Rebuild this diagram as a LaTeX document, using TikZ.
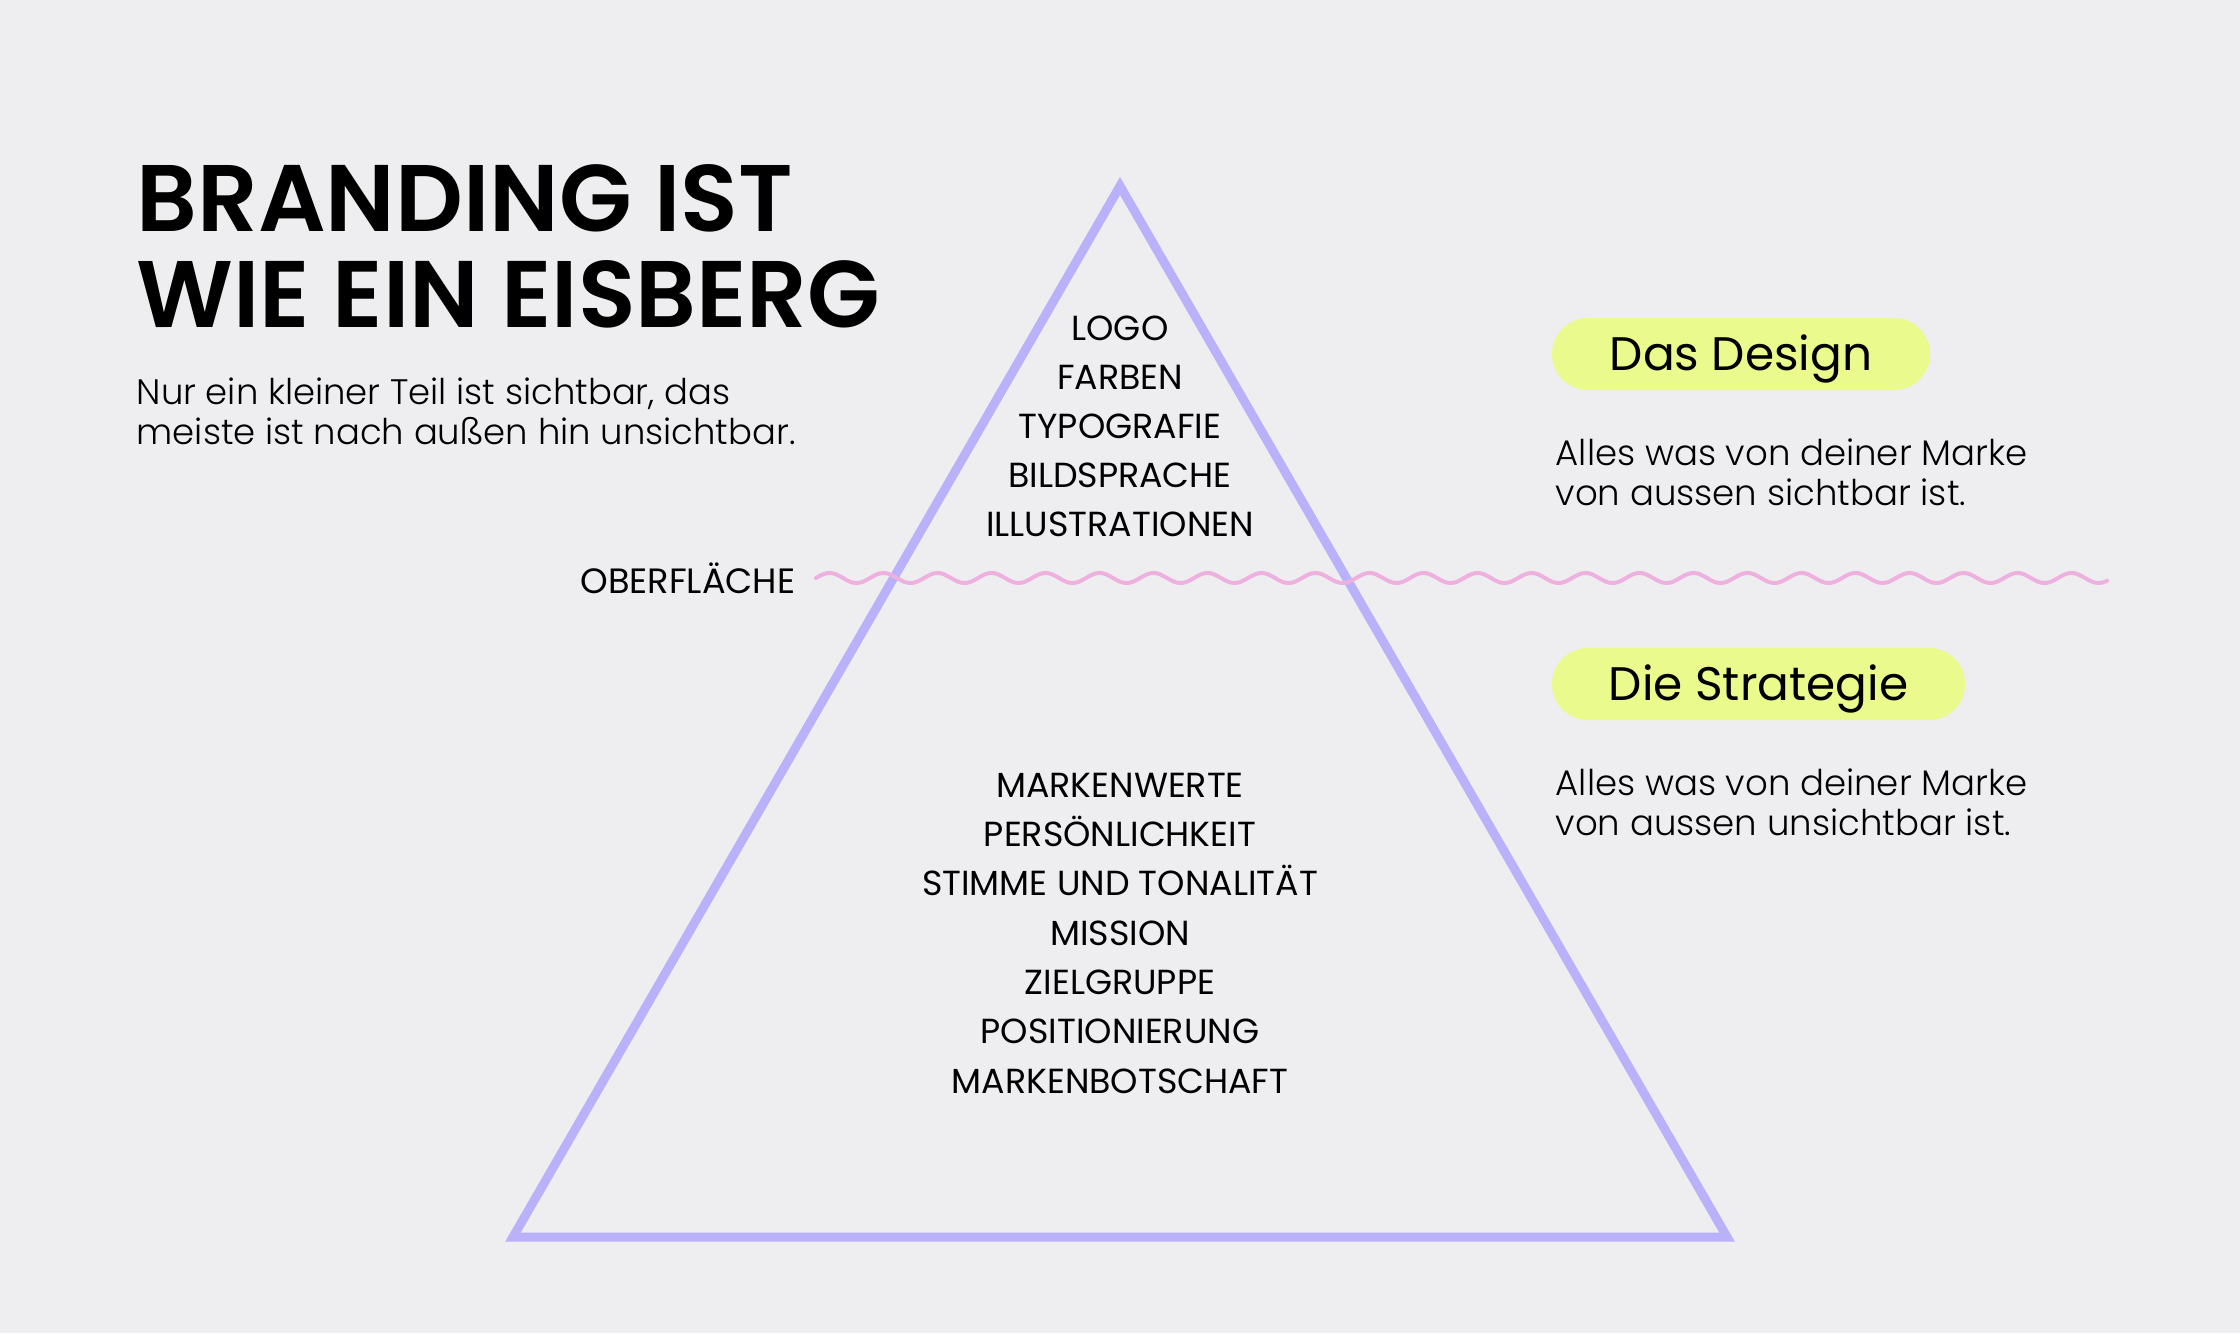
\documentclass[tikz,border=0pt]{standalone}
\usepackage{fontspec}
\setmainfont{Poppins}
\IfFontExistsTF{Poppins Light}{\newfontfamily\lightf{Poppins Light}}{\newfontfamily\lightf{Poppins}}
\IfFontExistsTF{Poppins SemiBold}{\newfontfamily\boldf{Poppins SemiBold}}{\newfontfamily\boldf{Poppins}[UprightFont=*-Bold]}
\definecolor{bg}{RGB}{238,238,241}
\definecolor{tricol}{RGB}{185,178,250}
\definecolor{pillcol}{RGB}{234,250,140}
\definecolor{wavecol}{RGB}{238,176,222}
\tikzset{
  titletext/.style={anchor=base west, inner sep=0pt, font=\boldf\fontsize{26.9pt}{27.6pt}\selectfont},
  subtext/.style={anchor=base west, inner sep=0pt, font=\lightf\fontsize{10.07pt}{11.4pt}\selectfont},
  listtext/.style={anchor=base, inner sep=0pt, font=\fontsize{9.9pt}{14pt}\selectfont},
  surftext/.style={anchor=base east, inner sep=0pt, font=\fontsize{10pt}{14pt}\selectfont},
  desctext/.style={anchor=base west, inner sep=0pt, font=\lightf\fontsize{10.1pt}{11.4pt}\selectfont},
  pill/.style={fill=pillcol, rounded corners=0.36cm, minimum height=0.72cm, inner sep=0pt,
    text height=9.4pt, text depth=0pt, font=\fontsize{13.37pt}{16pt}\selectfont},
  tri/.style={draw=tricol, line width=0.09cm, line join=miter},
  wave/.style={draw=wavecol, line width=0.04cm, line cap=round}
}
\begin{document}
\begin{tikzpicture}[x=0.01cm,y=-0.01cm]
\fill[bg] (0,0) rectangle (2240,1333);
\useasboundingbox (0,0) rectangle (2240,1333);

% title and subtitle
\node[titletext] (t1) at (136,231) {BRANDING IST};
\node[titletext] (t2) at (136,327) {WIE EIN EISBERG};
\node[subtext] (s1) at (136,404) {Nur ein kleiner Teil ist sichtbar, das};
\node[subtext] (s2) at (136,444) {meiste ist nach außen hin unsichtbar.};

% triangle
\coordinate (apex) at (1120,186);
\coordinate (bl) at (513,1237);
\coordinate (br) at (1727,1237);
\draw[tri] (apex) -- (br) -- (bl) -- cycle;

% surface wave
\coordinate (ws) at (816,578);
\coordinate (we) at (2107,578);
\draw[wave] plot[domain=0:1291, samples=800] ({816+\x},{578-5*sin(6.6667*\x)});
\node[surftext] (surf) at (796,593) {OBERFLÄCHE};

% visible items
\node[listtext] (v1) at (1120,340) {LOGO};
\node[listtext] (v2) at (1120,389) {FARBEN};
\node[listtext] (v3) at (1120,438) {TYPOGRAFIE};
\node[listtext] (v4) at (1120,487) {BILDSPRACHE};
\node[listtext] (v5) at (1120,536) {ILLUSTRATIONEN};

% invisible items
\node[listtext] (i1) at (1120,797) {MARKENWERTE};
\node[listtext] (i2) at (1120,846) {PERSÖNLICHKEIT};
\node[listtext] (i3) at (1120,895) {STIMME UND TONALITÄT};
\node[listtext] (i4) at (1120,945) {MISSION};
\node[listtext] (i5) at (1120,994) {ZIELGRUPPE};
\node[listtext] (i6) at (1120,1043) {POSITIONIERUNG};
\node[listtext] (i7) at (1120,1093) {MARKENBOTSCHAFT};

% right side
\node[pill, minimum width=3.78cm] (p1) at (1741,354) {Das Design};
\node[desctext] (d1) at (1555,465) {Alles was von deiner Marke};
\node[desctext] (d2) at (1555,505) {von aussen sichtbar ist.};
\node[pill, minimum width=4.13cm] (p2) at (1758.5,684) {Die Strategie};
\node[desctext] (d3) at (1555,795) {Alles was von deiner Marke};
\node[desctext] (d4) at (1555,835) {von aussen unsichtbar ist.};
\end{tikzpicture}
\end{document}
